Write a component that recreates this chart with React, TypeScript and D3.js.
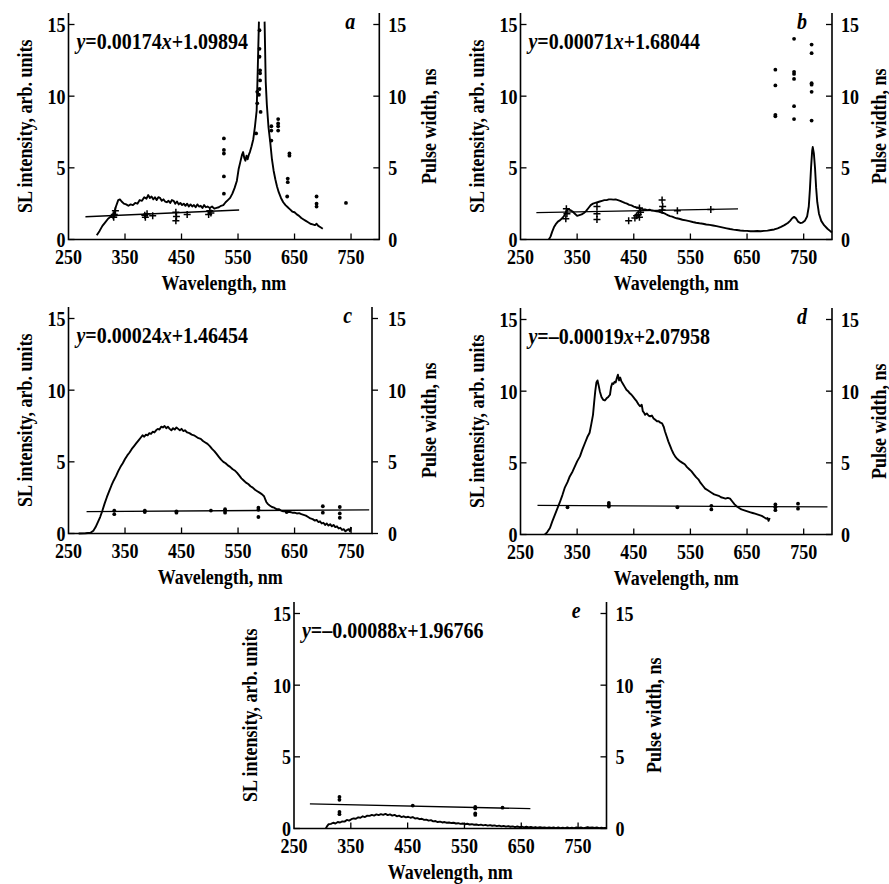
import React from "react";
import * as d3 from "d3";

// ---------- DATA ----------
const X_TICKS = [250, 350, 450, 550, 650, 750];
const Y_TICKS = [0, 5, 10, 15];
const X_LABEL = "Wavelength, nm";
const Y_LEFT_LABEL = "SL intensity, arb. units";
const Y_RIGHT_LABEL = "Pulse width, ns";

type Pt = [number, number | null];

// spectra (nm, SL intensity)
const SPEC_A: Pt[] = [
  [300,0.3],[305,0.6],[310,0.95],[315,1.2],[320,1.45],[325,1.6],[330,1.8],[334,2.3],[338,2.75],[341,2.8],[344,2.65],[348,2.5],[352,2.45],[356,2.35],[360,2.45],[364,2.4],[368,2.55],[372,2.5],[376,2.75],[380,2.7],[384,2.95],[388,2.85],[391,3.1],[394,2.9],[397,3.0],[400,2.8],[403,2.95],[406,2.75],[409,2.95],[412,2.9],[415,2.7],[418,2.8],[421,2.65],[424,2.6],[427,2.7],[430,2.55],[433,2.75],[436,2.7],[439,2.5],[442,2.65],[445,2.45],[448,2.55],[451,2.4],[454,2.5],[457,2.35],[460,2.5],[463,2.3],[466,2.45],[469,2.3],[472,2.4],[475,2.25],[478,2.45],[481,2.3],[484,2.35],[487,2.2],[490,2.4],[493,2.25],[496,2.3],[500,2.2],[504,2.3],[508,2.15],[512,2.2],[516,2.25],[520,2.35],[524,2.4],[528,2.6],[532,2.75],[536,2.9],[540,3.2],[544,3.6],[548,4.1],[551,4.9],[554,5.4],[557,5.9],[559,6.1],[561,5.7],[563,5.5],[565,5.85],[567,5.6],[569,5.9],[571,6.1],[574,6.5],[577,7.0],[580,7.9],[583,9.0],[585,12],[587,15.2],[592,null],[597,15.2],[599,11],[601,9.4],[604,7.8],[607,6.8],[610,5.6],[613,4.8],[616,4.2],[619,3.7],[622,3.3],[626,2.9],[630,2.6],[634,2.4],[638,2.25],[642,2.1],[646,1.95],[650,1.9],[654,1.75],[658,1.65],[662,1.5],[666,1.4],[670,1.3],[674,1.2],[678,1.1],[682,1.05],[686,1.0],[689,1.1],[692,0.95],[696,0.85],[700,0.75]
];
const SPEC_B: Pt[] = [
  [300,0],[303,0.2],[306,0.55],[309,0.85],[312,1.05],[316,1.25],[320,1.35],[324,1.5],[328,1.7],[331,2.0],[334,2.1],[338,2.05],[342,1.95],[346,1.8],[350,1.65],[354,1.7],[358,1.75],[362,1.85],[366,2.0],[370,2.2],[374,2.4],[378,2.5],[382,2.55],[386,2.6],[390,2.65],[394,2.7],[398,2.75],[402,2.75],[406,2.8],[410,2.8],[414,2.78],[418,2.8],[422,2.75],[426,2.7],[430,2.62],[434,2.55],[438,2.5],[442,2.42],[446,2.38],[450,2.3],[454,2.25],[458,2.22],[462,2.15],[466,2.12],[470,2.1],[474,2.05],[478,2.08],[482,2.02],[486,2.0],[490,1.97],[494,1.95],[498,1.9],[502,1.85],[506,1.78],[510,1.7],[514,1.63],[518,1.6],[522,1.53],[526,1.48],[530,1.45],[536,1.38],[542,1.33],[548,1.28],[554,1.22],[560,1.17],[566,1.13],[572,1.1],[578,1.05],[584,1.02],[590,0.98],[596,0.93],[602,0.88],[608,0.83],[614,0.78],[620,0.73],[626,0.69],[632,0.66],[638,0.63],[644,0.61],[650,0.6],[656,0.58],[662,0.58],[668,0.59],[674,0.58],[680,0.6],[686,0.62],[692,0.66],[698,0.7],[704,0.78],[710,0.88],[716,1.0],[722,1.15],[726,1.3],[730,1.5],[733,1.58],[736,1.5],[740,1.25],[744,1.15],[748,1.18],[752,1.3],[756,1.6],[759,2.3],[761,3.5],[763,5.0],[765,6.2],[766,6.45],[768,6.0],[770,5.0],[772,3.6],[774,2.6],[777,1.8],[781,1.3],[786,1.0],[792,0.75],[798,0.55],[800,0.5]
];
const SPEC_C: Pt[] = [
  [268,0],[280,0.02],[289,0.05],[294,0.2],[298,0.45],[302,0.8],[306,1.15],[310,1.6],[314,2.1],[318,2.55],[322,2.95],[326,3.35],[330,3.7],[334,4.0],[338,4.35],[342,4.65],[346,4.9],[350,5.2],[354,5.45],[358,5.65],[362,5.9],[366,6.1],[370,6.3],[374,6.5],[378,6.7],[381,6.85],[384,6.75],[387,6.9],[390,6.85],[393,7.0],[396,6.95],[399,7.1],[402,7.05],[405,7.2],[408,7.3],[411,7.25],[414,7.45],[417,7.4],[420,7.5],[423,7.35],[426,7.45],[429,7.3],[432,7.2],[435,7.35],[438,7.25],[441,7.4],[444,7.3],[447,7.2],[450,7.3],[453,7.15],[456,7.2],[460,7.05],[464,7.0],[468,6.9],[472,6.85],[476,6.75],[480,6.65],[484,6.6],[488,6.45],[492,6.35],[496,6.25],[500,6.1],[504,5.9],[508,5.75],[512,5.55],[516,5.35],[520,5.15],[524,5.0],[528,4.9],[532,4.75],[536,4.65],[540,4.5],[544,4.4],[548,4.25],[552,4.05],[556,3.85],[560,3.7],[564,3.55],[568,3.45],[572,3.3],[576,3.2],[580,3.05],[584,2.95],[588,2.85],[592,2.75],[596,2.6],[598,2.4],[600,2.2],[603,2.05],[606,1.95],[610,1.85],[614,1.8],[618,1.7],[622,1.7],[626,1.6],[630,1.55],[634,1.55],[638,1.5],[642,1.5],[646,1.45],[650,1.45],[654,1.4],[658,1.42],[662,1.35],[666,1.3],[670,1.25],[674,1.15],[678,1.05],[682,1.0],[686,0.9],[689,0.95],[692,0.8],[695,0.85],[698,0.7],[701,0.75],[704,0.6],[707,0.7],[710,0.55],[713,0.65],[716,0.5],[719,0.6],[722,0.45],[725,0.5],[728,0.35],[731,0.4],[734,0.25],[737,0.3],[740,0.15],[743,0.25],[746,0.3],[748,0.15],[750,0.45]
];
const SPEC_D: Pt[] = [
  [293,0],[297,0.15],[302,0.45],[306,0.9],[311,1.4],[315,1.8],[319,2.2],[324,2.75],[328,3.25],[333,3.65],[337,4.05],[342,4.4],[346,4.75],[350,5.1],[355,5.45],[359,5.9],[364,6.4],[368,6.8],[372,7.1],[375,7.7],[378,8.35],[380,9.2],[382,10.0],[384,10.6],[386,10.75],[388,10.4],[390,10.0],[393,9.6],[396,9.4],[399,9.35],[402,9.5],[405,9.6],[408,9.75],[410,10.3],[412,10.55],[414,10.5],[416,10.65],[418,10.6],[420,10.9],[422,11.15],[424,10.75],[426,10.95],[428,10.7],[431,10.5],[434,10.3],[437,10.1],[440,10.0],[443,9.85],[446,9.75],[449,9.6],[452,9.45],[455,9.3],[458,9.1],[461,8.95],[464,9.05],[466,8.6],[468,8.5],[470,8.35],[473,8.45],[476,8.3],[479,8.25],[482,8.3],[485,8.1],[488,8.0],[491,7.9],[494,7.9],[497,7.8],[500,7.75],[503,7.5],[505,7.2],[508,6.85],[511,6.5],[514,6.2],[517,5.9],[520,5.65],[523,5.45],[526,5.3],[529,5.2],[532,5.1],[536,5.0],[540,4.9],[544,4.7],[548,4.55],[552,4.4],[556,4.2],[560,4.0],[564,3.85],[568,3.6],[572,3.4],[576,3.2],[580,3.1],[584,3.0],[588,2.9],[592,2.8],[596,2.75],[600,2.7],[604,2.6],[608,2.55],[612,2.5],[616,2.55],[620,2.5],[624,2.3],[628,2.1],[632,1.95],[636,1.85],[640,1.75],[644,1.7],[648,1.65],[652,1.6],[656,1.55],[660,1.5],[664,1.45],[668,1.4],[672,1.35],[676,1.3],[680,1.2],[684,1.1],[686,1.15],[688,0.95],[690,1.15]
];
const SPEC_E: Pt[] = [
  [306,0],[308,0.15],[311,0.3],[315,0.32],[319,0.4],[323,0.35],[327,0.45],[331,0.42],[335,0.5],[339,0.48],[343,0.6],[347,0.55],[351,0.65],[355,0.7],[359,0.68],[363,0.78],[367,0.75],[371,0.85],[375,0.8],[379,0.9],[383,0.88],[387,0.95],[391,0.9],[395,0.98],[399,0.93],[403,1.0],[407,0.95],[411,1.02],[415,0.93],[419,0.98],[423,0.9],[427,0.95],[431,0.85],[435,0.9],[439,0.8],[443,0.85],[447,0.78],[451,0.82],[455,0.75],[459,0.8],[463,0.7],[467,0.72],[471,0.65],[475,0.68],[479,0.6],[483,0.62],[487,0.55],[491,0.58],[495,0.5],[499,0.52],[503,0.45],[507,0.48],[511,0.42],[515,0.45],[519,0.4],[523,0.42],[527,0.38],[531,0.4],[535,0.35],[539,0.37],[543,0.32],[547,0.35],[551,0.3],[555,0.33],[559,0.28],[563,0.3],[567,0.26],[571,0.28],[575,0.24],[579,0.27],[583,0.22],[587,0.25],[591,0.2],[595,0.24],[599,0.19],[603,0.22],[607,0.17],[611,0.2],[615,0.15],[619,0.18],[623,0.13],[627,0.17],[631,0.12],[635,0.15],[639,0.1],[643,0.14],[647,0.09],[651,0.13],[655,0.08],[659,0.12],[663,0.07],[667,0.11],[671,0.06],[675,0.1],[679,0.05],[683,0.09],[687,0.05],[691,0.08],[695,0.04],[699,0.08],[703,0.04],[707,0.07],[711,0.03],[715,0.07],[719,0.03],[723,0.06],[727,0.03],[731,0.07],[735,0.03],[739,0.06],[743,0.03],[747,0.08],[751,0.04],[755,0.07],[759,0.03],[763,0.06],[767,0.1],[771,0.05],[775,0.08],[779,0.04],[783,0.07],[787,0.03],[791,0.06],[795,0.03],[800,0.04]
];

// pulse widths (nm, ns): dots and crosses
const DOTS_A: [number, number][] = [
  [525,7.05],[525,6.25],[525,6.0],[525,4.4],[525,3.2],
  [582,7.4],[584,9.5],[584,10.3],
  [588,14.6],[588,13.3],[588,12.75],[589,11.8],[589,11.6],[589,11.1],[588,10.5],[587,10.1],[590,8.9],
  [609,7.9],[609,7.6],[609,6.9],
  [621,8.4],[621,8.1],[621,7.9],[621,7.6],
  [641,6.0],[641,5.85],[638,4.25],[638,4.0],[637,3.0],
  [689,3.0],[689,2.5],[689,2.3],
  [741,2.55]
];
const PLUS_A: [number, number][] = [
  [330,1.55],[331,1.75],[333,2.0],[329,1.65],[385,1.7],[386,1.55],[389,1.8],[399,1.65],[440,1.3],[440,1.9],[441,1.6],[460,1.75],[498,1.75],[500,2.0],[502,1.85]
];
const DOTS_B: [number, number][] = [
  [700,11.85],[700,10.75],[700,8.7],[700,8.6],
  [733,14.0],[733,11.7],[733,11.55],[733,11.2],[733,9.3],[733,8.4],
  [764,13.6],[764,13.0],[764,10.9],[764,10.8],[764,10.3],[764,8.3]
];
const PLUS_B: [number, number][] = [
  [331,2.15],[332,1.8],[330,1.45],[385,2.3],[385,1.8],[385,1.4],[441,1.3],[452,1.5],[455,1.65],[458,1.75],[460,1.55],[462,1.9],[460,2.2],[500,2.75],[501,2.3],[500,2.05],[527,2.0],[586,2.1]
];
const DOTS_C: [number, number][] = [
  [331,1.35],[331,1.6],[385,1.5],[385,1.6],[441,1.45],[441,1.55],[502,1.6],[527,1.45],[527,1.6],[527,1.7],[586,1.8],[586,1.65],[586,1.15],[636,1.5],[700,1.9],[700,1.45],[730,1.85],[730,1.4],[730,1.1]
];
const DOTS_D: [number, number][] = [
  [333,1.9],[406,1.95],[406,2.2],[406,2.05],[527,1.9],[587,1.75],[587,2.0],[700,1.7],[700,2.1],[700,1.9],[740,1.8],[740,2.15]
];
const DOTS_E: [number, number][] = [
  [330,2.2],[330,2.0],[330,1.15],[330,1.0],[459,1.6],[569,1.5],[569,1.4],[569,1.05],[569,0.95],[617,1.45]
];

// linear fits: slope, intercept, x-range
const FIT_A = { slope: 0.00174, intercept: 1.09894, from: 280, to: 552 };
const FIT_B = { slope: 0.00071, intercept: 1.68044, from: 278, to: 634 };
const FIT_C = { slope: 0.00024, intercept: 1.46454, from: 282, to: 782 };
const FIT_D = { slope: -0.00019, intercept: 2.07958, from: 280, to: 792 };
const FIT_E = { slope: -0.00088, intercept: 1.96766, from: 278, to: 666 };

const EQ_A = "y=0.00174x+1.09894";
const EQ_B = "y=0.00071x+1.68044";
const EQ_C = "y=0.00024x+1.46454";
const EQ_D = "y=–0.00019x+2.07958";
const EQ_E = "y=–0.00088x+1.96766";

// ---------- LAYOUT ----------
const FONT = "'Liberation Serif', 'Times New Roman', serif";
const SY = 1.18; // glyphs in the figure are slightly taller than wide

type Layout = { x0: number; x1: number; xMax: number; y0: number; rightOut?: boolean; rightLabelDx: number; letterDx: number };

const T = ({ x, y, anchor = "start", size = 18, rot = 0, dy, italic, children }: any) => (
  <text
    transform={`translate(${x},${y}) rotate(${rot}) scale(1,${SY})`}
    textAnchor={anchor}
    dy={dy}
    fontFamily={FONT}
    fontWeight="bold"
    fontStyle={italic ? "italic" : "normal"}
    fontSize={size}
  >
    {children}
  </text>
);

const Eq = ({ s, x, y }: { s: string; x: number; y: number }) => {
  const parts = s.split(/([xy])/).filter((p) => p !== "");
  return (
    <T x={x} y={y} size={20}>
      {parts.map((p, i) => (
        <tspan key={i} fontStyle={p === "x" || p === "y" ? "italic" : "normal"}>{p}</tspan>
      ))}
    </T>
  );
};

function Panel({ letter, spec, dots, plus, fit, eq, L }: { letter: string; spec: Pt[]; dots: [number, number][]; plus: [number, number][]; fit: { slope: number; intercept: number; from: number; to: number }; eq: string; L: Layout }) {
  const x = d3.scaleLinear().domain([250, L.xMax]).range([L.x0, L.x1]);
  const y = d3.scaleLinear().domain([0, 15]).range([L.y0, L.y0 - 215]);
  const yTop = y(15.8);
  const line = d3
    .line<Pt>()
    .defined((d) => d[1] !== null)
    .x((d) => x(d[0]))
    .y((d) => y(d[1] as number));
  const fitPts: Pt[] = [
    [fit.from, fit.slope * fit.from + fit.intercept],
    [fit.to, fit.slope * fit.to + fit.intercept],
  ];
  const tl = 6;
  const midY = (L.y0 + yTop) / 2;
  const midX = (L.x0 + L.x1) / 2;
  return (
    <g>
      {/* axes */}
      <path d={`M${L.x0},${yTop}V${L.y0}H${L.x1}V${yTop}`} fill="none" stroke="#000" strokeWidth={1.6} />
      {Y_TICKS.map((t) => (
        <g key={"y" + t}>
          <line x1={L.x0} x2={L.x0 + tl} y1={y(t)} y2={y(t)} stroke="#000" strokeWidth={1.3} />
          <line x1={L.x1} x2={L.rightOut ? L.x1 + tl : L.x1 - tl} y1={y(t)} y2={y(t)} stroke="#000" strokeWidth={1.3} />
          <T x={L.x0 - 3} y={y(t)} dy="0.35em" anchor="end">{t}</T>
          <T x={L.x1 + (L.rightOut ? 16 : 9)} y={y(t)} dy="0.35em">{t}</T>
        </g>
      ))}
      {X_TICKS.map((t) => (
        <g key={"x" + t}>
          {t > 250 && <line x1={x(t)} x2={x(t)} y1={L.y0} y2={L.y0 - tl} stroke="#000" strokeWidth={1.3} />}
          <T x={x(t)} y={L.y0 + 24} anchor="middle">{t}</T>
        </g>
      ))}
      <T x={midX} y={L.y0 + 50} anchor="middle">{X_LABEL}</T>
      <T x={L.x0 - 37} y={midY} rot={-90} anchor="middle">{Y_LEFT_LABEL}</T>
      <T x={L.x1 + L.rightLabelDx} y={midY} rot={-90} anchor="middle">{Y_RIGHT_LABEL}</T>
      {/* letter and equation */}
      <T x={L.x1 - L.letterDx} y={L.y0 - 211} anchor="end" size={20} italic>{letter}</T>
      <Eq s={eq} x={L.x0 + 8} y={L.y0 - 191} />
      {/* data */}
      <path d={line(fitPts) || ""} fill="none" stroke="#000" strokeWidth={1.3} />
      <path d={line(spec) || ""} fill="none" stroke="#000" strokeWidth={1.9} strokeLinejoin="round" />
      {dots.map((d, i) => (
        <circle key={"d" + i} cx={x(d[0])} cy={y(d[1])} r={1.9} fill="#000" />
      ))}
      {plus.map((d, i) => (
        <path key={"p" + i} d={`M${x(d[0]) - 3.5},${y(d[1])}h7M${x(d[0])},${y(d[1]) - 3.5}v7`} stroke="#000" strokeWidth={1.5} />
      ))}
    </g>
  );
}

export default function App() {
  return (
    <svg width={889} height={884} style={{ position: "absolute", left: 0, top: 0, background: "#fff" }}>
      <rect width={889} height={884} fill="#fff" />
      <Panel letter="a" spec={SPEC_A} dots={DOTS_A} plus={PLUS_A} fit={FIT_A} eq={EQ_A}
        L={{ x0: 68.5, x1: 379.3, xMax: 800, y0: 239.5, rightLabelDx: 57, letterDx: 24 }} />
      <Panel letter="b" spec={SPEC_B} dots={DOTS_B} plus={PLUS_B} fit={FIT_B} eq={EQ_B}
        L={{ x0: 520.5, x1: 832, xMax: 800, y0: 239.5, rightLabelDx: 54, letterDx: 25 }} />
      <Panel letter="c" spec={SPEC_C} dots={DOTS_C} plus={[]} fit={FIT_C} eq={EQ_C}
        L={{ x0: 68.5, x1: 372, xMax: 787, y0: 533.5, rightOut: true, rightLabelDx: 64, letterDx: 20 }} />
      <Panel letter="d" spec={SPEC_D} dots={DOTS_D} plus={[]} fit={FIT_D} eq={EQ_D}
        L={{ x0: 520.5, x1: 832, xMax: 800, y0: 534.5, rightLabelDx: 54, letterDx: 25 }} />
      <Panel letter="e" spec={SPEC_E} dots={DOTS_E} plus={[]} fit={FIT_E} eq={EQ_E}
        L={{ x0: 294, x1: 606.5, xMax: 800, y0: 828.5, rightLabelDx: 54, letterDx: 26 }} />
    </svg>
  );
}
